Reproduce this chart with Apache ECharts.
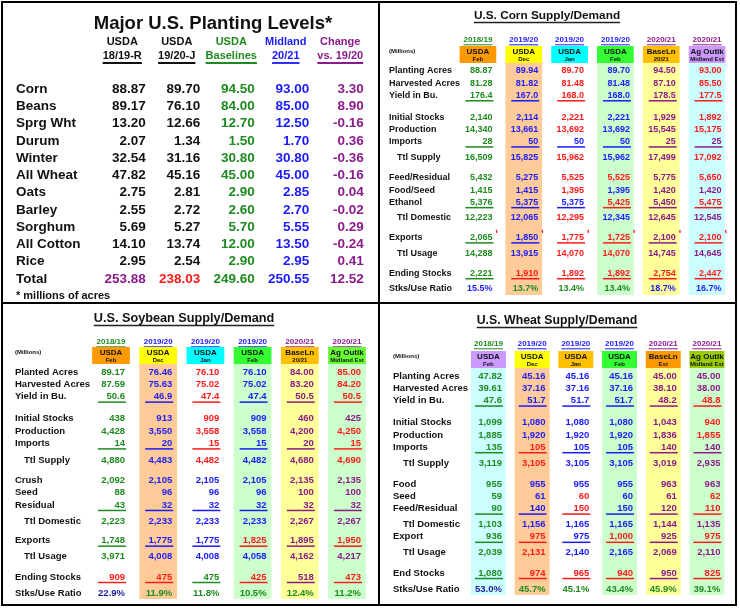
<!DOCTYPE html>
<html><head><meta charset="utf-8">
<script src="https://cdn.jsdelivr.net/npm/echarts@6/dist/echarts.min.js"></script>
<style>html,body{margin:0;padding:0;background:#fff}#c{width:740px;height:610px}</style>
</head><body><div id="c"></div>
<script>
// ================= DATA =================
// --- Major U.S. Planting Levels (millions of acres) ---
const plantCrops = ['Corn','Beans','Sprg Wht','Durum','Winter','All Wheat','Oats','Barley','Sorghum','All Cotton','Rice','Total'];
const plantHead1 = ['USDA','USDA','USDA','Midland','Change'];
const plantHead2 = ['18/19-R','19/20-J','Baselines','20/21','vs. 19/20'];
const plantUsda1819 = [88.87, 89.17, 13.20, 2.07, 32.54, 47.82, 2.75, 2.55, 5.69, 14.10, 2.95, 253.88];
const plantUsda1920 = [89.70, 76.10, 12.66, 1.34, 31.16, 45.16, 2.81, 2.72, 5.27, 13.74, 2.54, 238.03];
const plantBaselines = [94.50, 84.00, 12.70, 1.50, 30.80, 45.00, 2.90, 2.60, 5.70, 12.00, 2.90, 249.60];
const plantMidland = [93.00, 85.00, 12.50, 1.70, 30.80, 45.00, 2.85, 2.70, 5.55, 13.50, 2.95, 250.55];
const plantChange = [3.30, 8.90, -0.16, 0.36, -0.36, -0.16, 0.04, -0.02, 0.29, -0.24, 0.41, 12.52];
const plantFootnote = '* millions of acres';

// --- shared supply/demand column headers ---
const sdSource = ['USDA','USDA','USDA','USDA','BaseLn','Ag Outlk'];

// --- U.S. Corn Supply/Demand ---
const cornRows = ['Planting Acres','Harvested Acres','Yield in Bu.','Initial Stocks','Production','Imports','Ttl Supply','Feed/Residual','Food/Seed','Ethanol','Ttl Domestic','Exports','Ttl Usage','Ending Stocks','Stks/Use Ratio'];
const cornYears = ['2018/19','2019/20','2019/20','2019/20','2020/21','2020/21'];
const cornSub = ['Feb','Dec','Jan','Feb','20/21','Midland Est'];
const corn1819Feb = [88.87, 81.28, 176.4, 2140, 14340, 28, 16509, 5432, 1415, 5376, 12223, 2065, 14288, 2221, 15.5];
const corn1920Dec = [89.94, 81.82, 167.0, 2114, 13661, 50, 15825, 5275, 1415, 5375, 12065, 1850, 13915, 1910, 13.7];
const corn1920Jan = [89.70, 81.48, 168.0, 2221, 13692, 50, 15962, 5525, 1395, 5375, 12295, 1775, 14070, 1892, 13.4];
const corn1920Feb = [89.70, 81.48, 168.0, 2221, 13692, 50, 15962, 5525, 1395, 5425, 12345, 1725, 14070, 1892, 13.4];
const corn2021Base = [94.50, 87.10, 178.5, 1929, 15545, 25, 17499, 5775, 1420, 5450, 12645, 2100, 14745, 2754, 18.7];
const corn2021Midland = [93.00, 85.50, 177.5, 1892, 15175, 25, 17092, 5650, 1420, 5475, 12545, 2100, 14645, 2447, 16.7];

// --- U.S. Soybean Supply/Demand ---
const soyRows = ['Planted Acres','Harvested Acres','Yield in Bu.','Initial Stocks','Production','Imports','Ttl Supply','Crush','Seed','Residual','Ttl Domestic','Exports','Ttl Usage','Ending Stocks','Stks/Use Ratio'];
const soyYears = ['2018/19','2019/20','2019/20','2019/20','2020/21','2020/21'];
const soySub = ['Feb','Dec','Jan','Feb','20/21','Midland Est'];
const soy1819Feb = [89.17, 87.59, 50.6, 438, 4428, 14, 4880, 2092, 88, 43, 2223, 1748, 3971, 909, 22.9];
const soy1920Dec = [76.46, 75.63, 46.9, 913, 3550, 20, 4483, 2105, 96, 32, 2233, 1775, 4008, 475, 11.9];
const soy1920Jan = [76.10, 75.02, 47.4, 909, 3558, 15, 4482, 2105, 96, 32, 2233, 1775, 4008, 475, 11.8];
const soy1920Feb = [76.10, 75.02, 47.4, 909, 3558, 15, 4482, 2105, 96, 32, 2233, 1825, 4058, 425, 10.5];
const soy2021Base = [84.00, 83.20, 50.5, 460, 4200, 20, 4680, 2135, 100, 32, 2267, 1895, 4162, 518, 12.4];
const soy2021Midland = [85.00, 84.20, 50.5, 425, 4250, 15, 4690, 2135, 100, 32, 2267, 1950, 4217, 473, 11.2];

// --- U.S. Wheat Supply/Demand ---
const wheatRows = ['Planting Acres','Harvested Acres','Yield in Bu.','Initial Stocks','Production','Imports','Ttl Supply','Food','Seed','Feed/Residual','Ttl Domestic','Export','Ttl Usage','End Stocks','Stks/Use Ratio'];
const wheatYears = ['2018/19','2019/20','2019/20','2019/20','2020/21','2020/21'];
const wheatSub = ['Feb','Dec','Jan','Feb','Est','Midland Est'];
const wheat1819Feb = [47.82, 39.61, 47.6, 1099, 1885, 135, 3119, 955, 59, 90, 1103, 936, 2039, 1080, 53.0];
const wheat1920Dec = [45.16, 37.16, 51.7, 1080, 1920, 105, 3105, 955, 61, 140, 1156, 975, 2131, 974, 45.7];
const wheat1920Jan = [45.16, 37.16, 51.7, 1080, 1920, 105, 3105, 955, 60, 150, 1165, 975, 2140, 965, 45.1];
const wheat1920Feb = [45.16, 37.16, 51.7, 1080, 1920, 105, 3105, 955, 60, 150, 1165, 1000, 2165, 940, 43.4];
const wheat2021Base = [45.00, 38.10, 48.2, 1043, 1836, 140, 3019, 963, 61, 120, 1144, 925, 2069, 950, 45.9];
const wheat2021Midland = [45.00, 38.00, 48.8, 940, 1855, 140, 2935, 963, 62, 110, 1135, 975, 2110, 825, 39.1];

// row number formats: a = acres, y = yield, i = integer, % = ratio
const sdFormats = ['a','a','y','i','i','i','i','i','i','i','i','i','i','i','%'];

// ================= STYLE =================
const FONT = '"Liberation Sans", Arial, Helvetica, sans-serif';
const bold = s => 'bold ' + s + 'px ' + FONT;
const COL = {g:'#1f8a1f', b:'#1a1aff', r:'#ff1a1a', p:'#8b1a8b', n:'#1c1ca0', k:'#111111'};
const SHADE = {o:'#ffcc99', G:'#ccffcc', Y:'#ffff99', C:'#ccffff'};
const mctx = document.createElement('canvas').getContext('2d');
const textW = (t, font) => { mctx.font = font; return mctx.measureText(t).width; };

const plantColColors = ['k','k','g','b','p'];
const plantTotalColors = ['p','r','g','b','p'];

const cornStyle = {
  yearColors: ['g','b','b','b','p','p'],
  boxColors: ['#ff9900','#ffff00','#00ffff','#33ff33','#ffc000','#cc99ff'],
  shades: ['', 'o', '', 'G', 'Y', 'C'],
  text: ['ggggggggggggggb','bbbbbbbbbbbbbrg','rrrrrbrrrbrrrrg','bbbbbbbrbrbrrrg','ppppppppppppprb','rrrrrprrprprprb'],
  ul:   ['..g..g...g.g.g.','..b..b...b.b.r.','..r..b...b.r.r.','..b..b...r.r.r.','..p..p...p.p.r.','..r..p...r.r.r.'],
  gaps: [0,1,1,1.8,1,1,1.35,1.65,1,1,1.3,1.6,1.3,1.65,1.3],
  indent: [6,10,12], tickRow: 11,
  fs: 9, labelOff: 66, indentPx: 8, rightOff: 14.5, yearOff: 31
};
const soyStyle = {
  yearColors: ['g','b','b','b','p','p'],
  boxColors: ['#ff9900','#ffff00','#00ffff','#33ff33','#ffc000','#66ff33'],
  shades: ['', 'o', '', 'G', 'Y', 'G'],
  text: ['gggggggggggggrn','bbbbbbbbbbbbbrg','rrrrrrrbbbbbbgg','bbbbbbbbbbbrbrg','ppppppppppppppg','rrrprrrpppprprg'],
  ul:   ['..g..g...g.g.r.','..b..b...b.b.r.','..r..r...b.b.g.','..b..b...b.r.r.','..p..p...p.p.p.','..r..r...p.r.r.'],
  gaps: [0,1,1,1.8,1,1,1.35,1.65,1,1,1.3,1.6,1.3,1.65,1.3],
  indent: [6,10,12], tickRow: -1,
  fs: 9.5, labelOff: 72.4, indentPx: 9, rightOff: 14, yearOff: 30
};
const wheatStyle = {
  yearColors: ['g','b','b','b','p','p'],
  boxColors: ['#cc99ff','#ffff00','#ffc000','#33ff33','#ff9900','#99cc00'],
  shades: ['C', 'o', '', 'G', 'Y', 'G'],
  text: ['ggggggggggggggn','bbbbbrrbbbbrrrg','bbbbbbbbrrbbbrg','bbbbbbbbbbbrbrg','ppppppppppppppg','pprrrppprrprprg'],
  ul:   ['..g..g...g.g.g.','..b..r...b.r.r.','..b..b...r.b.r.','..b..b...b.r.r.','..p..p...p.p.p.','..r..p...r.r.r.'],
  gaps: [0,1,1,1.8,1,1,1.35,1.65,1,1,1.3,1,1.3,1.65,1.3],
  indent: [6,10,12], tickRow: -1,
  fs: 9.5, labelOff: 73.6, indentPx: 10, rightOff: 13.5, yearOff: 32
};

// ================= HELPERS =================
function fmtVal(v, k) {
  if (k === 'a') return v.toFixed(2);
  if (k === 'y') return v.toFixed(1);
  if (k === '%') return v.toFixed(1) + '%';
  return String(Math.round(v)).replace(/\B(?=(\d{3})+(?!\d))/g, ',');
}
function txt(text, x, y, font, fill, align) {
  const a = align || 'left';
  return {type:'text', style:{text:text, x:x, y:y, font:font, fill:fill, textAlign:a, textVerticalAlign:'middle', align:a, verticalAlign:'middle'}};
}
function ln(x1, y1, x2, y2, stroke, w) {
  return {type:'line', shape:{x1:x1, y1:y1, x2:x2, y2:y2}, style:{stroke:stroke, lineWidth:w || 1.5}};
}
function custom(gi, data, render, z) {
  return {type:'custom', xAxisIndex:gi, yAxisIndex:gi, data:data, renderItem:render, z:z || 3, silent:true, animation:false, clip:false};
}
function cumPos(gaps) { const out = []; let s = 0; gaps.forEach(g => { s += g; out.push(s); }); return out; }

// ================= PANELS =================
const grids = [
  {left:95, top:89, width:272.5, height:190},
  {left:455, top:71, width:275, height:218},
  {left:87.4, top:372, width:283.2, height:221},
  {left:466.6, top:376, width:262.2, height:213}
];
const xAxes = [], yAxes = [], series = [];

// ---- Planting panel (grid 0) ----
(function () {
  const cols = [plantUsda1819, plantUsda1920, plantBaselines, plantMidland, plantChange];
  xAxes.push({type:'category', gridIndex:0, data:['c1','c2','c3','c4','c5'], show:false});
  yAxes.push({type:'value', gridIndex:0, min:0, max:plantCrops.length - 1, inverse:true, show:false});
  // headers
  series.push(custom(0, plantHead1.map((h, c) => [c, 0]), function (params, api) {
    const c = params.dataIndex;
    const p = api.coord([api.value(0), api.value(1)]);
    const fill = COL[plantColColors[c]];
    const f2 = bold(11);
    const w = textW(plantHead2[c], f2);
    return {type:'group', children:[
      txt(plantHead1[c], p[0], p[1] - 47, bold(11), fill, 'center'),
      txt(plantHead2[c], p[0], p[1] - 33, f2, fill, 'center'),
      ln(p[0] - w / 2, p[1] - 26, p[0] + w / 2, p[1] - 26, fill, 1.8)
    ]};
  }));
  // row labels + footnote
  const labData = plantCrops.map((r, i) => [0, i]).concat([[0, plantCrops.length]]);
  series.push(custom(0, labData, function (params, api) {
    const i = params.dataIndex;
    const p = api.coord([api.value(0), api.value(1)]);
    const bw = api.size([1, 0])[0];
    const x = p[0] - bw / 2 - 79;
    if (i === plantCrops.length) return txt(plantFootnote, x, p[1], bold(11), COL.k, 'left');
    return txt(plantCrops[i], x, p[1], bold(13.5), COL.k, 'left');
  }));
  // values
  const cells = [];
  cols.forEach((arr, c) => arr.forEach((v, r) => cells.push({c:c, r:r, text:v.toFixed(2),
    color: r === plantCrops.length - 1 ? plantTotalColors[c] : plantColColors[c]})));
  series.push(custom(0, cells.map(o => [o.c, o.r]), function (params, api) {
    const o = cells[params.dataIndex];
    const p = api.coord([api.value(0), api.value(1)]);
    return txt(o.text, p[0] + 23.5, p[1], bold(13.5), COL[o.color], 'right');
  }));
})();

// ---- Supply / demand panels ----
function sdPanel(gi, rows, years, sub, cols, st) {
  const pos = cumPos(st.gaps);
  const maxPos = pos[pos.length - 1];
  xAxes.push({type:'category', gridIndex:gi, data:['c1','c2','c3','c4','c5','c6'], show:false});
  yAxes.push({type:'value', gridIndex:gi, min:0, max:maxPos, inverse:true, show:false});
  const colIdx = [0,1,2,3,4,5];
  // column shading (behind)
  const shadeCols = colIdx.filter(c => st.shades[c]);
  series.push(custom(gi, shadeCols.map(c => [c, 0]), function (params, api) {
    const c = shadeCols[params.dataIndex];
    const p = api.coord([api.value(0), api.value(1)]);
    const pb = api.coord([api.value(0), maxPos]);
    const bw = api.size([1, 0])[0] * 0.8;
    return {type:'rect', shape:{x:p[0] - bw / 2, y:p[1] - 8, width:bw, height:pb[1] + 6 - (p[1] - 8)}, style:{fill:SHADE[st.shades[c]]}};
  }, 1));
  // headers: year, coloured box, source, sub
  series.push(custom(gi, colIdx.map(c => [c, 0]), function (params, api) {
    const c = params.dataIndex;
    const p = api.coord([api.value(0), api.value(1)]);
    const bw = api.size([1, 0])[0] * 0.8;
    const yc = COL[st.yearColors[c]];
    const fy = bold(8);
    const w = textW(years[c], fy);
    const yy = p[1] - st.yearOff;
    return {type:'group', children:[
      txt(years[c], p[0], yy, fy, yc, 'center'),
      ln(p[0] - w / 2, yy + 4.8, p[0] + w / 2, yy + 4.8, yc, 1),
      {type:'rect', shape:{x:p[0] - bw / 2, y:p[1] - 25, width:bw, height:17}, style:{fill:st.boxColors[c]}},
      txt(sdSource[c], p[0], p[1] - 19.5, bold(8), COL.k, 'center'),
      txt(sub[c], p[0], p[1] - 11.5, bold(6), COL.k, 'center')
    ]};
  }, 2));
  // row labels + "(Millions)"
  const labData = rows.map((r, i) => [0, pos[i]]).concat([[0, 0]]);
  series.push(custom(gi, labData, function (params, api) {
    const i = params.dataIndex;
    const p = api.coord([api.value(0), api.value(1)]);
    const bw = api.size([1, 0])[0];
    const x = p[0] - bw / 2 - st.labelOff;
    if (i === rows.length) return txt('(Millions)', x, p[1] - 20, bold(6), COL.k, 'left');
    const ind = st.indent.indexOf(i) >= 0 ? st.indentPx : 0;
    return txt(rows[i], x + ind, p[1], bold(st.fs), COL.k, 'left');
  }));
  // values
  const cells = [];
  cols.forEach((arr, c) => arr.forEach((v, r) => cells.push({
    c:c, r:r, text:fmtVal(v, sdFormats[r]), color:st.text[c][r],
    ul: st.ul[c][r] !== '.' ? st.ul[c][r] : null, tick: r === st.tickRow
  })));
  series.push(custom(gi, cells.map(o => [o.c, pos[o.r]]), function (params, api) {
    const o = cells[params.dataIndex];
    const p = api.coord([api.value(0), api.value(1)]);
    const right = p[0] + st.rightOff;
    const ch = [txt(o.text, right, p[1], bold(st.fs), COL[o.color], 'right')];
    if (o.ul) ch.push(ln(right - 27, p[1] + 5.5, right + 1, p[1] + 5.5, COL[o.ul], 1.5));
    if (o.tick) ch.push(ln(right + 4, p[1] - 7.5, right + 4.4, p[1] - 4.5, COL.r, 1.3));
    return {type:'group', children:ch};
  }));
}
sdPanel(1, cornRows, cornYears, cornSub,
  [corn1819Feb, corn1920Dec, corn1920Jan, corn1920Feb, corn2021Base, corn2021Midland], cornStyle);
sdPanel(2, soyRows, soyYears, soySub,
  [soy1819Feb, soy1920Dec, soy1920Jan, soy1920Feb, soy2021Base, soy2021Midland], soyStyle);
sdPanel(3, wheatRows, wheatYears, wheatSub,
  [wheat1819Feb, wheat1920Dec, wheat1920Jan, wheat1920Feb, wheat2021Base, wheat2021Midland], wheatStyle);

// ---- titles and frames ----
function titleG(text, cx, cy, size, ulY) {
  const f = bold(size);
  const out = [{type:'text', x:cx, y:cy, style:{text:text, font:f, fill:'#111', textAlign:'center', textVerticalAlign:'middle', align:'center', verticalAlign:'middle'}, silent:true}];
  if (ulY) {
    const w = textW(text, f);
    out.push({type:'line', shape:{x1:cx - w / 2, y1:ulY, x2:cx + w / 2, y2:ulY}, style:{stroke:'#222', lineWidth:1.4}, silent:true});
  }
  return out;
}
const graphics = [].concat(
  titleG('Major U.S. Planting Levels*', 213, 24, 18.5, 0),
  titleG('U.S. Corn Supply/Demand', 547, 16, 11.8, 22.5),
  titleG('U.S. Soybean Supply/Demand', 184, 318, 12.7, 325.5),
  titleG('U.S. Wheat Supply/Demand', 557, 321, 12.3, 327.5),
  [
    {type:'rect', shape:{x:2, y:2, width:734, height:603}, style:{fill:'none', stroke:'#000', lineWidth:2}, silent:true, z:10},
    {type:'line', shape:{x1:379, y1:2, x2:379, y2:605}, style:{stroke:'#000', lineWidth:2}, silent:true, z:10},
    {type:'line', shape:{x1:2, y1:303, x2:736, y2:303}, style:{stroke:'#000', lineWidth:2}, silent:true, z:10}
  ]
);

const chart = echarts.init(document.getElementById('c'), null, {renderer:'canvas'});
chart.setOption({
  animation:false,
  backgroundColor:'#ffffff',
  grid:grids,
  xAxis:xAxes,
  yAxis:yAxes,
  series:series,
  graphic:graphics
});
</script></body></html>
